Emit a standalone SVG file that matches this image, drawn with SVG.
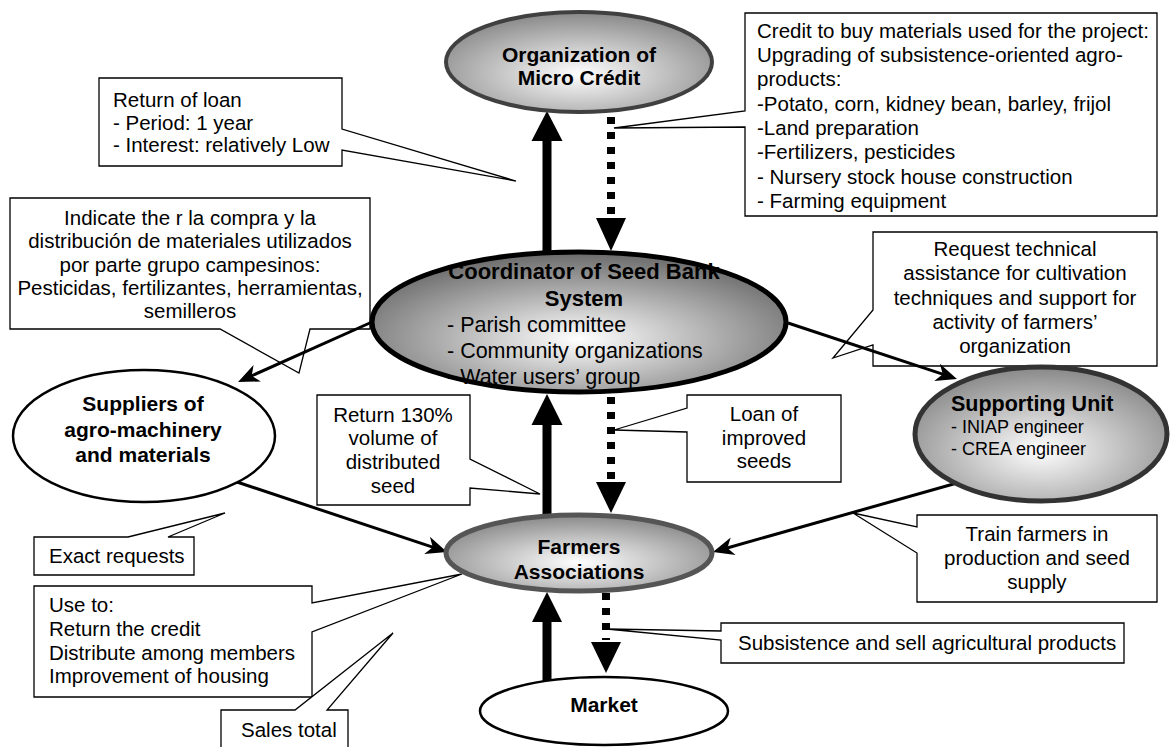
<svg xmlns="http://www.w3.org/2000/svg" width="1173" height="747" viewBox="0 0 1173 747">
  <style>
    text{font-family:"Liberation Sans",Arial,Helvetica,sans-serif;font-size:20.5px;fill:#000}
    .b{font-weight:bold;font-size:21px}
    .c{text-anchor:middle}
    .box{fill:#fff;stroke:#000;stroke-width:1.3;stroke-linejoin:miter}
    .con{stroke:#000;stroke-width:3;fill:none;marker-end:url(#barb)}
    .shaft{stroke:#000;stroke-width:9;fill:none}
    .dash{stroke:#000;stroke-width:8;stroke-dasharray:7 8;fill:none}
    .head{fill:#000}
  </style>
  <defs>
    <radialGradient id="shade" cx="0.5" cy="0.62" r="0.6">
      <stop offset="0" stop-color="#ffffff"/>
      <stop offset="1" stop-color="#8c8c8c"/>
    </radialGradient>
    <radialGradient id="shadeDark" cx="0.5" cy="0.62" r="0.6">
      <stop offset="0" stop-color="#ffffff"/>
      <stop offset="1" stop-color="#6e6e6e"/>
    </radialGradient>
    <marker id="barb" viewBox="-22 -10 24 20" refX="-12" refY="0" markerWidth="24" markerHeight="20" markerUnits="userSpaceOnUse" orient="auto">
      <path d="M0,0 L-21,-9 L-15,0 L-21,9 Z" fill="#000"/>
    </marker>
  </defs>

  <!-- callout boxes -->
  <g id="callout-loan-return">
    <path class="box" d="M99,78 H342 V129 L516,181 L342,150 V166 H99 Z"/>
    <text x="113" y="107">Return of loan</text>
    <text x="113" y="130">- Period: 1 year</text>
    <text x="113" y="152">- Interest: relatively Low</text>
  </g>
  <g id="callout-credit">
    <path class="box" d="M745,13 H1157 V216 H745 V127 L614,128 L745,111 Z"/>
    <text x="757" y="38">Credit to buy materials used for the project:</text>
    <text x="757" y="62">Upgrading of subsistence-oriented agro-</text>
    <text x="757" y="86">products:</text>
    <text x="757" y="111">-Potato, corn, kidney bean, barley, frijol</text>
    <text x="757" y="135">-Land preparation</text>
    <text x="757" y="159">-Fertilizers, pesticides</text>
    <text x="757" y="184">- Nursery stock house construction</text>
    <text x="757" y="208">- Farming equipment</text>
  </g>
  <g id="callout-purchase">
    <path class="box" d="M10,198 H370 V329 H310 L299,373 L220,329 H10 Z"/>
    <text class="c" x="190" y="225">Indicate the r la compra y la</text>
    <text class="c" x="190" y="248">distribución de materiales utilizados</text>
    <text class="c" x="190" y="272">por parte grupo campesinos:</text>
    <text class="c" x="190" y="295">Pesticidas, fertilizantes, herramientas,</text>
    <text class="c" x="190" y="318">semilleros</text>
  </g>
  <g id="callout-request">
    <path class="box" d="M873,232 H1157 V366 H873 V345 L833,358 L873,310 Z"/>
    <text class="c" x="1015" y="256">Request technical</text>
    <text class="c" x="1015" y="280">assistance for cultivation</text>
    <text class="c" x="1015" y="305">techniques and support for</text>
    <text class="c" x="1015" y="329">activity of farmers’</text>
    <text class="c" x="1015" y="353">organization</text>
  </g>
  <g id="callout-return-seed">
    <path class="box" d="M317,395 H470 V459 L540,494 L470,488 V505 H317 Z"/>
    <text class="c" x="393" y="422">Return 130%</text>
    <text class="c" x="393" y="445">volume of</text>
    <text class="c" x="393" y="469">distributed</text>
    <text class="c" x="393" y="493">seed</text>
  </g>
  <g id="callout-seed-loan">
    <path class="box" d="M687,395 H841 V482 H687 V432 L614,430 L687,408 Z"/>
    <text class="c" x="764" y="421">Loan of</text>
    <text class="c" x="764" y="445">improved</text>
    <text class="c" x="764" y="468">seeds</text>
  </g>
  <g id="callout-exact">
    <path class="box" d="M34,537 H128 L225,513 L168,537 H194 V575 H34 Z"/>
    <text x="49" y="563">Exact requests</text>
  </g>
  <g id="callout-use">
    <path class="box" d="M34,586 H312 V603 L462,574 L312,632 V697 H34 Z"/>
    <text x="49" y="612">Use to:</text>
    <text x="49" y="636">Return the credit</text>
    <text x="49" y="660">Distribute among members</text>
    <text x="49" y="683">Improvement of housing</text>
  </g>
  <g id="callout-sales">
    <path class="box" d="M221,710 H295 L393,633 L327,710 H348 V760 H221 Z"/>
    <text x="241" y="737">Sales total</text>
  </g>
  <g id="callout-train">
    <path class="box" d="M917,515 H1157 V602 H917 V553 L853,513 L917,527 Z"/>
    <text class="c" x="1037" y="541">Train farmers in</text>
    <text class="c" x="1037" y="565">production and seed</text>
    <text class="c" x="1037" y="589">supply</text>
  </g>
  <g id="callout-subsistence">
    <path class="box" d="M721,623 H1124 V663 H721 V640 L607,629 L721,631 Z"/>
    <text x="738" y="650">Subsistence and sell agricultural products</text>
  </g>

  <!-- connectors -->
  <g id="connectors">
    <!-- coordinator <-> micro credit -->
    <line class="shaft" x1="547" y1="254" x2="547" y2="139"/>
    <polygon class="head" points="547,111 531.5,141 562.5,141"/>
    <line class="dash" x1="611" y1="117" x2="611" y2="216"/>
    <polygon class="head" points="596,218 626,218 611,251"/>
    <!-- farmers <-> coordinator -->
    <line class="shaft" x1="547" y1="517" x2="547" y2="423"/>
    <polygon class="head" points="547,394 531.5,425 562.5,425"/>
    <line class="dash" x1="611" y1="397" x2="611" y2="480"/>
    <polygon class="head" points="596,482 626,482 611,513"/>
    <!-- market <-> farmers -->
    <line class="shaft" x1="547" y1="681" x2="547" y2="620"/>
    <polygon class="head" points="547,592 532,622 562,622"/>
    <line class="dash" x1="606" y1="593" x2="606" y2="640"/>
    <polygon class="head" points="591,642 621,642 606,673"/>
    <!-- thin arrows -->
    <line class="con" x1="372" y1="322" x2="249" y2="377"/>
    <line class="con" x1="788" y1="323" x2="945.6" y2="375.2"/>
    <line class="con" x1="237" y1="482" x2="435.6" y2="548.2"/>
    <line class="con" x1="957" y1="483" x2="724.5" y2="548.7"/>
  </g>

  <!-- nodes -->
  <g id="node-microcredit">
    <ellipse cx="579" cy="62" rx="133" ry="50" fill="url(#shade)" stroke="#404040" stroke-width="4"/>
    <text class="b c" x="579" y="62">Organization of</text>
    <text class="b c" x="579" y="85">Micro Crédit</text>
  </g>
  <g id="node-coordinator">
    <ellipse cx="579" cy="322" rx="207" ry="70" fill="url(#shadeDark)" stroke="#000" stroke-width="5"/>
    <text class="b c" x="584" y="279" style="font-size:22px">Coordinator of Seed Bank</text>
    <text class="b c" x="584" y="306" style="font-size:22px">System</text>
    <text x="447" y="332" style="font-size:21.5px">- Parish committee</text>
    <text x="447" y="358" style="font-size:21.5px">- Community organizations</text>
    <text x="447" y="384" style="font-size:21.5px">- Water users’ group</text>
  </g>
  <g id="node-suppliers">
    <ellipse cx="144" cy="436" rx="131" ry="66" fill="#fff" stroke="#000" stroke-width="2.5"/>
    <text class="b c" x="143" y="411">Suppliers of</text>
    <text class="b c" x="143" y="437">agro-machinery</text>
    <text class="b c" x="143" y="462">and materials</text>
  </g>
  <g id="node-supporting">
    <ellipse cx="1041" cy="434" rx="126" ry="67" fill="url(#shade)" stroke="#333" stroke-width="5"/>
    <text class="b" x="951" y="411" style="font-size:21.5px">Supporting Unit</text>
    <text x="951" y="433" style="font-size:18px">- INIAP engineer</text>
    <text x="951" y="455" style="font-size:18px">- CREA engineer</text>
  </g>
  <g id="node-farmers">
    <ellipse cx="579" cy="553" rx="133" ry="38" fill="url(#shade)" stroke="#555" stroke-width="5"/>
    <text class="b c" x="579" y="554">Farmers</text>
    <text class="b c" x="579" y="579">Associations</text>
  </g>
  <g id="node-market">
    <ellipse cx="604" cy="711" rx="124" ry="34" fill="#fff" stroke="#000" stroke-width="2.5"/>
    <text class="b c" x="604" y="712">Market</text>
  </g>
</svg>
